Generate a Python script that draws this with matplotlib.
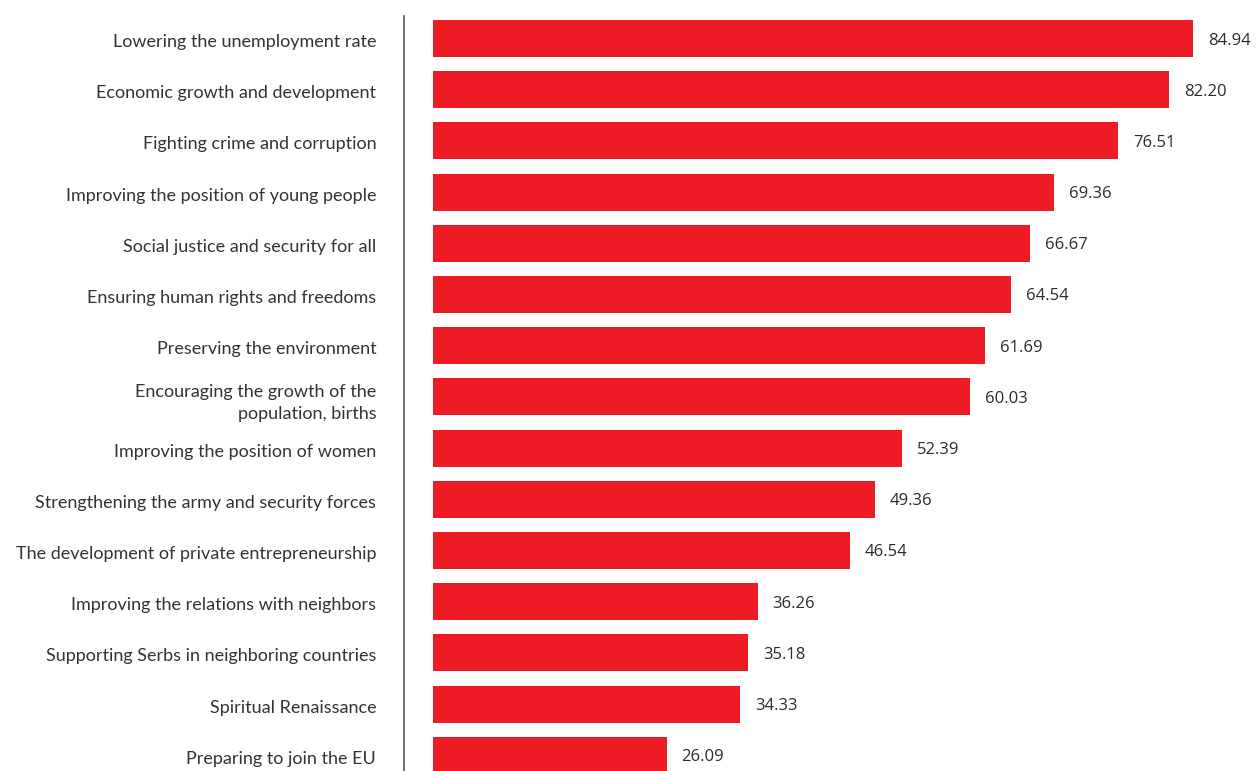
import matplotlib
matplotlib.use("Agg")
import matplotlib.pyplot as plt
import matplotlib.transforms as mtransforms

# priorities, top to bottom
labels = [
    "Lowering the unemployment rate",
    "Economic growth and development",
    "Fighting crime and corruption",
    "Improving the position of young people",
    "Social justice and security for all",
    "Ensuring human rights and freedoms",
    "Preserving the environment",
    "Encouraging the growth of the\npopulation, births",
    "Improving the position of women",
    "Strengthening the army and security forces",
    "The development of private entrepreneurship",
    "Improving the relations with neighbors",
    "Supporting Serbs in neighboring countries",
    "Spiritual Renaissance",
    "Preparing to join the EU",
]
values = [84.94, 82.20, 76.51, 69.36, 66.67, 64.54, 61.69, 60.03,
          52.39, 49.36, 46.54, 36.26, 35.18, 34.33, 26.09]

RED = "#ED1C24"
TXT = "#2b2b2b"

fig = plt.figure(figsize=(12.58, 7.71), dpi=100)
ax = fig.add_axes([404 / 1258, 0, 1 - 404 / 1258, 1])

pos = list(range(len(values)))
ax.barh(pos, values, height=0.72, color=RED)

ax.set_xlim(-3.24, 92.18)
ax.set_ylim(14.307, -0.752)

for y, v in zip(pos, values):
    ax.annotate(f"{v:.2f}", (v, y), xytext=(15, -2), textcoords="offset pixels",
                va="center", ha="left", fontsize=12, color=TXT,
                family="Open Sans", annotation_clip=False)

ax.set_yticks(pos)
ax.set_yticklabels(labels, fontsize=13, color="#333333", family="Lato",
                   linespacing=1.4)
ax.tick_params(axis="y", length=0, pad=20)
ax.set_xticks([])

# nudge the labels down a touch
shift = mtransforms.ScaledTranslation(0, -2 / 100, fig.dpi_scale_trans)
for lab in ax.get_yticklabels():
    lab.set_transform(lab.get_transform() + shift)

for s in ["top", "right", "bottom"]:
    ax.spines[s].set_visible(False)
ax.spines["left"].set_color("#555555")
ax.spines["left"].set_linewidth(1.2)
ax.spines["left"].set_bounds(14.307, -0.44)

fig.savefig("out.png", dpi=100)
